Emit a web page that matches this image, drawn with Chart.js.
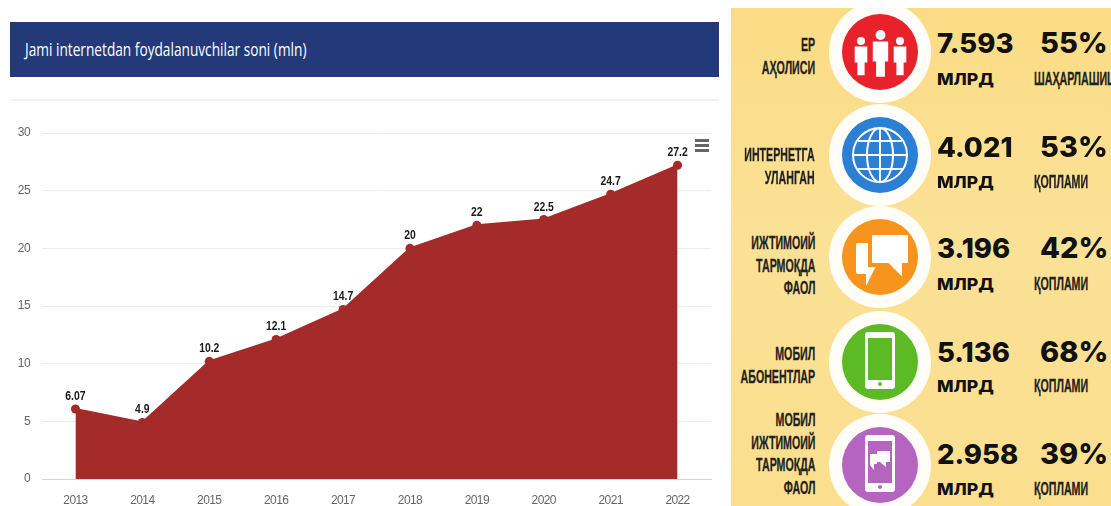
<!DOCTYPE html>
<html>
<head>
<meta charset="utf-8">
<script src="https://cdn.jsdelivr.net/npm/chart.js@4"></script>
<style>
html, body { margin: 0; padding: 0; background: #fff; overflow: hidden; }
#page { position: relative; width: 1111px; height: 506px; overflow: hidden; }
#header { position: absolute; left: 10px; top: 22px; width: 709px; height: 55px; background: #243a78; }
#header span { position: absolute; left: 15px; top: 15px; color: #fff; font: 500 18px "Open Sans", sans-serif; white-space: nowrap; transform: scaleX(.76); transform-origin: left top; }
#rule { position: absolute; left: 10px; top: 99px; width: 709px; height: 2px; background: #f2f2f2; }
#wrap { position: absolute; left: 0; top: 100px; width: 720px; height: 406px; }
#usersChart { display: block; }
#menu { position: absolute; left: 695px; top: 139px; width: 14px; height: 14px; }
#menu i { display: block; height: 3px; margin-bottom: 2px; background: #666; }
#panel { position: absolute; left: 731px; top: 8px; width: 380px; height: 498px; overflow: hidden; background: linear-gradient(#fbdc85, #fbe196 45%, #fbdf8f); }
.ring { position: absolute; left: 98px; width: 102px; height: 102px; border-radius: 50%; background: #fffdf8; }
.disc { position: absolute; left: 13px; top: 13px; width: 76px; height: 76px; border-radius: 50%; }
.disc svg { position: absolute; left: 0; top: 0; }
.lab { position: absolute; right: 296px; text-align: right; font: bold 19px/22.5px "Liberation Sans", sans-serif; color: #222; white-space: nowrap; transform: scaleX(.56); transform-origin: right center; -webkit-text-stroke: .3px #222; }
.num, .pct { position: absolute; font: 800 27.5px/32px Inter, sans-serif; color: #111; white-space: nowrap; }
.num { left: 206px; }
.pct { left: 309px; font-size: 29px; }
.unit { position: absolute; left: 206px; font: 800 16px/20px Inter, sans-serif; color: #111; transform: scaleX(1.1); transform-origin: left center; }
.note { position: absolute; left: 303px; font: bold 19px/20px "Liberation Sans", sans-serif; color: #222; white-space: nowrap; transform: scaleX(.56); transform-origin: left center; -webkit-text-stroke: .3px #222; }
</style>
</head>
<body>
<div id="page">
  <div id="header"><span>Jami internetdan foydalanuvchilar soni (mln)</span></div>
  <div id="rule"></div>
  <div id="wrap"><canvas id="usersChart" width="720" height="406"></canvas></div>
  <div id="menu"><i></i><i></i><i></i></div>
  <div id="panel"></div>
</div>
<script>
const years = ['2013', '2014', '2015', '2016', '2017', '2018', '2019', '2020', '2021', '2022'];
const users = [6.07, 4.9, 10.2, 12.1, 14.7, 20, 22, 22.5, 24.7, 27.2];
const userLabels = ['6.07', '4.9', '10.2', '12.1', '14.7', '20', '22', '22.5', '24.7', '27.2'];

const rowTitles = [
    ['ЕР', 'АҲОЛИСИ'],
    ['ИНТЕРНЕТГА', 'УЛАНГАН'],
    ['ИЖТИМОИЙ', 'ТАРМОҚДА', 'ФАОЛ'],
    ['МОБИЛ', 'АБОНЕНТЛАР'],
    ['МОБИЛ', 'ИЖТИМОИЙ', 'ТАРМОҚДА', 'ФАОЛ']
];
const rowNumbers = ['7.593', '4.021', '3.196', '5.136', '2.958'];
const rowPercents = ['55%', '53%', '42%', '68%', '39%'];
const rowNotes = ['ШАҲАРЛАШИЦ', 'ҚОПЛАМИ', 'ҚОПЛАМИ', 'ҚОПЛАМИ', 'ҚОПЛАМИ'];
const rowColors = ['#e8222a', '#2b7fd4', '#f7941d', '#5cba24', '#b565c0'];

// page y of each row
const discY = [52, 155, 257, 362, 465];
const numberY = [43, 147, 248, 352, 454];
const unitY = [79, 182, 284, 386, 489];
const titleTop = [34, 144, 232, 343, 409];

const person = (x, y, s) => `<circle cx="${x}" cy="${y}" r="${4.5 * s}" fill="#fff"/><path fill="#fff" d="M${x - 7 * s} ${y + 6 * s}h${14 * s}v${18 * s}h${-3 * s}v${14 * s}h${-8 * s}v${-14 * s}h${-3 * s}z"/>`;
const icons = [
    person(19, 27, .9) + person(58, 27, .9) + person(38.5, 21, 1.1),
    `<g fill="none" stroke="#fff" stroke-width="2"><circle cx="38" cy="38" r="27"/><ellipse cx="38" cy="38" rx="13" ry="27"/><path d="M38 11v54M11 38h54M16 24h44M16 52h44"/></g>`,
    `<path fill="#fff" d="M14 24h12v24h8l-2 3-8 16v-12h-8q-2 0-2-2V26q0-2 2-2z"/><path fill="#fff" stroke="#f7941d" stroke-width="2" d="M31 15h34q2 0 2 2v26q0 2-2 2h-4v15L46 45H31q-2 0-2-2V17q0-2 2-2z"/>`,
    `<rect x="23" y="8" width="30" height="57" rx="3" fill="#fff"/><rect x="26" y="14" width="24" height="42" fill="#5cba24"/><circle cx="38" cy="60" r="2" fill="#5cba24"/>`,
    `<rect x="23" y="8" width="30" height="57" rx="3" fill="#fff"/><rect x="26" y="14" width="24" height="42" fill="#b565c0"/><circle cx="38" cy="60" r="2" fill="#b565c0"/><path fill="#fff" d="M28 27h7v10h-3v6l-4-5zM35 24h13v11h-4v5l-6-5h-3z"/>`
];

// infographic rows on the right
const panel = document.getElementById('panel');
discY.forEach(function (y, i) {
    panel.insertAdjacentHTML('beforeend',
        `<div class="ring" style="top:${y - 8 - 51}px"><div class="disc" style="background:${rowColors[i]}"><svg width="76" height="76">${icons[i]}</svg></div></div>` +
        `<div class="lab" style="top:${titleTop[i] - 8}px">${rowTitles[i].join('<br>')}</div>` +
        `<div class="num" style="top:${numberY[i] - 8 - 16}px">${rowNumbers[i]}</div>` +
        `<div class="pct" style="top:${numberY[i] - 8 - 16}px">${rowPercents[i]}</div>` +
        `<div class="unit" style="top:${unitY[i] - 8 - 10}px">МЛРД</div>` +
        `<div class="note" style="top:${unitY[i] - 8 - 10}px">${rowNotes[i]}</div>`);
});

const pointLabels = {
    id: 'pointLabels',
    beforeDraw(chart) {
        chart.ctx.letterSpacing = '-0.6px'; // squeezes the tick labels
    },
    afterDatasetsDraw(chart) {
        const ctx = chart.ctx;
        ctx.save();
        ctx.letterSpacing = '0px';
        ctx.font = 'bold 13px "Liberation Sans", sans-serif';
        ctx.fillStyle = '#1a1a1a';
        ctx.textAlign = 'center';
        chart.getDatasetMeta(0).data.forEach(function (pt, i) {
            ctx.save();
            ctx.translate(pt.x, pt.y - 9);
            ctx.scale(.8, 1);
            ctx.fillText(userLabels[i], 0, 0);
            ctx.restore();
        });
        ctx.restore();
    }
};

new Chart(document.getElementById('usersChart').getContext('2d'), {
    type: 'line',
    data: {
        labels: years,
        datasets: [{
            data: users,
            borderColor: '#a52a2a',
            backgroundColor: '#a52a2a',
            borderWidth: 2,
            fill: 'origin',
            tension: 0,
            pointRadius: 4.5,
            pointBackgroundColor: '#a52a2a',
            pointBorderWidth: 0
        }]
    },
    options: {
        responsive: false,
        animation: false,
        layout: { padding: { left: 0, right: 9, top: 33, bottom: 0 } },
        plugins: { legend: { display: false }, tooltip: { enabled: false } },
        scales: {
            x: {
                offset: true,
                grid: { display: false },
                border: { color: '#ccd6eb' },
                ticks: { color: '#666', font: { family: '"Liberation Sans", sans-serif', size: 12 }, padding: 6, maxRotation: 0, autoSkip: false },
                afterFit: function (s) { s.height = 27; }
            },
            y: {
                min: 0,
                max: 30,
                grid: { color: '#ececec', drawTicks: false },
                border: { display: false },
                ticks: { stepSize: 5, color: '#666', font: { family: '"Liberation Sans", sans-serif', size: 12 }, padding: 12 },
                afterFit: function (s) { s.width = 42; }
            }
        }
    },
    plugins: [pointLabels]
});
</script>
</body>
</html>
